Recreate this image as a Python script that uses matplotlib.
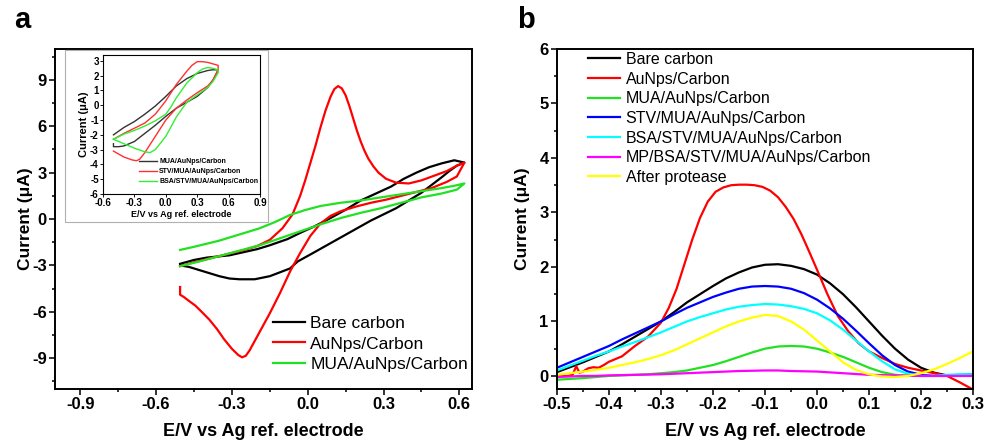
import matplotlib
matplotlib.use("Agg")
import matplotlib.pyplot as plt
from matplotlib.patches import Rectangle
from matplotlib.ticker import MultipleLocator

plt.rcParams["font.family"] = ["Liberation Sans", "DejaVu Sans"]
plt.rcParams["font.weight"] = "bold"

# ------------------------------------------------------------------ data (a) CV
bare_v = [-0.505, -0.45, -0.4, -0.31, -0.2, -0.15, -0.08, -0.03, 0.03, 0.09, 0.15,
          0.21, 0.27, 0.33, 0.38, 0.43, 0.48, 0.53, 0.58, 0.62,
          0.59, 0.56, 0.53, 0.49, 0.45, 0.40, 0.35, 0.30, 0.25, 0.19, 0.13, 0.07,
          0.01, -0.04, -0.07, -0.11, -0.15, -0.21, -0.27, -0.31, -0.35, -0.39,
          -0.43, -0.47, -0.505]
bare_i = [-2.9, -2.65, -2.5, -2.35, -1.95, -1.7, -1.3, -0.9, -0.45, 0.06, 0.6,
          1.2, 1.65, 2.1, 2.6, 3.0, 3.35, 3.6, 3.8, 3.65,
          3.45, 3.1, 2.7, 2.2, 1.7, 1.2, 0.7, 0.3, -0.1, -0.65, -1.2, -1.75,
          -2.3, -2.75, -3.2, -3.45, -3.7, -3.9, -3.9, -3.85, -3.7, -3.5,
          -3.3, -3.1, -3.0]

aunp_v = [-0.505, -0.45, -0.4, -0.35, -0.3, -0.25, -0.2, -0.15, -0.1, -0.06,
          -0.03, -0.01, 0.01, 0.03, 0.05, 0.07, 0.09, 0.105, 0.12, 0.135, 0.15,
          0.165, 0.18, 0.195, 0.21, 0.225, 0.24, 0.26, 0.28, 0.31, 0.35,
          0.40, 0.45, 0.50, 0.55, 0.59, 0.62,
          0.59, 0.55, 0.49, 0.43, 0.37, 0.31, 0.25, 0.19, 0.13, 0.09, 0.05, 0.01,
          -0.03, -0.07, -0.11, -0.15, -0.18, -0.21, -0.23, -0.245, -0.26, -0.275,
          -0.30, -0.33, -0.36, -0.39, -0.42, -0.445, -0.47, -0.49, -0.505, -0.505]
aunp_i = [-3.05, -2.8, -2.6, -2.4, -2.2, -2.0, -1.75, -1.35, -0.6, 0.3,
          1.5, 2.5, 3.6, 4.7, 5.9, 7.0, 7.9, 8.4, 8.6, 8.45, 8.0,
          7.3, 6.5, 5.7, 5.0, 4.4, 3.9, 3.4, 3.0, 2.6, 2.35,
          2.3, 2.5, 2.8, 3.1, 3.45, 3.65,
          2.75, 2.4, 2.0, 1.75, 1.5, 1.25, 1.05, 0.8, 0.5, 0.2, -0.3, -1.1,
          -2.2, -3.4, -4.8, -6.1, -7.0, -7.9, -8.5, -8.85, -8.95, -8.8,
          -8.4, -7.8, -7.1, -6.5, -6.0, -5.6, -5.3, -5.05, -4.9, -4.4]

mua_v = [-0.505, -0.45, -0.4, -0.35, -0.3, -0.25, -0.19, -0.13, -0.07, -0.01, 0.05,
         0.13, 0.21, 0.29, 0.37, 0.45, 0.53, 0.58, 0.62,
         0.59, 0.53, 0.45, 0.37, 0.29, 0.21, 0.13, 0.05, -0.03, -0.11, -0.19,
         -0.27, -0.35, -0.43, -0.505]
mua_i = [-2.0, -1.8, -1.6, -1.4, -1.15, -0.9, -0.6, -0.2, 0.26, 0.58, 0.84,
         1.05, 1.2, 1.4, 1.6, 1.8, 2.0, 2.15, 2.3,
         1.9, 1.65, 1.4, 1.05, 0.7, 0.4, 0.06, -0.35, -0.8, -1.25, -1.7,
         -2.05, -2.4, -2.75, -3.05]

# inset CVs
in_mua_v = [-0.5, -0.4, -0.3, -0.2, -0.1, 0.0, 0.1, 0.2, 0.3, 0.4, 0.45, 0.5,
            0.48, 0.45, 0.4, 0.3, 0.2, 0.1, 0.0, -0.1, -0.2, -0.3, -0.4, -0.45,
            -0.5, -0.5]
in_mua_i = [-2.0, -1.5, -1.1, -0.6, -0.05, 0.6, 1.3, 1.8, 2.15, 2.35, 2.4, 2.4,
            2.1, 1.7, 1.2, 0.6, 0.2, -0.2, -0.75, -1.35, -1.9, -2.45, -2.75, -2.8,
            -2.8, -2.6]
in_stv_v = [-0.5, -0.4, -0.3, -0.2, -0.1, 0.0, 0.1, 0.2, 0.25, 0.3, 0.35, 0.4,
            0.45, 0.5, 0.5, 0.45, 0.4, 0.3, 0.2, 0.1, 0.0, -0.1, -0.2, -0.25,
            -0.28, -0.32, -0.4, -0.45, -0.5]
in_stv_i = [-2.3, -1.9, -1.55, -1.2, -0.6, 0.3, 1.4, 2.3, 2.7, 2.95, 2.95, 2.9,
            2.8, 2.7, 2.4, 1.7, 1.3, 0.85, 0.35, -0.2, -1.0, -2.1, -3.2, -3.65,
            -3.75, -3.7, -3.5, -3.3, -3.1]
in_bsa_v = [-0.5, -0.4, -0.3, -0.2, -0.1, 0.0, 0.05, 0.1, 0.2, 0.3, 0.35, 0.4,
            0.45, 0.5, 0.5, 0.45, 0.4, 0.3, 0.2, 0.1, 0.0, -0.1, -0.15, -0.2,
            -0.3, -0.4, -0.5]
in_bsa_i = [-2.3, -1.95, -1.7, -1.4, -1.05, -0.6, -0.1, 0.5, 1.5, 2.2, 2.45, 2.55,
            2.5, 2.4, 2.2, 1.6, 1.2, 0.7, 0.2, -0.8, -2.1, -3.0, -3.2, -3.15,
            -2.9, -2.6, -2.3]

# ------------------------------------------------------------------ data (b) DPV
dpv_v = [-0.5, -0.475, -0.45, -0.425, -0.4, -0.375, -0.35, -0.325, -0.3, -0.275,
         -0.25, -0.225, -0.2, -0.175, -0.15, -0.125, -0.1, -0.075, -0.05, -0.025,
         0.0, 0.025, 0.05, 0.075, 0.1, 0.125, 0.15, 0.175, 0.2, 0.225, 0.25,
         0.275, 0.3]
dpv_bare = [0.07, 0.16, 0.25, 0.35, 0.45, 0.58, 0.72, 0.86, 1.0, 1.17,
            1.35, 1.5, 1.65, 1.79, 1.9, 1.99, 2.04, 2.05, 2.02, 1.96,
            1.86, 1.7, 1.5, 1.26, 1.0, 0.74, 0.5, 0.3, 0.15, 0.06, 0.01,
            0.0, 0.01]
dpv_mua = [-0.07, -0.055, -0.04, -0.02, 0.0, 0.01, 0.02, 0.03, 0.05, 0.07,
           0.1, 0.15, 0.2, 0.27, 0.35, 0.43, 0.5, 0.54, 0.55, 0.54,
           0.5, 0.43, 0.35, 0.25, 0.15, 0.07, 0.02, 0.0, 0.0, 0.0, 0.0,
           0.0, 0.0]
dpv_stv = [0.15, 0.25, 0.35, 0.45, 0.55, 0.67, 0.78, 0.89, 1.0, 1.13,
           1.25, 1.35, 1.45, 1.53, 1.6, 1.64, 1.65, 1.64, 1.6, 1.52,
           1.4, 1.24, 1.05, 0.83, 0.6, 0.38, 0.2, 0.08, 0.02, 0.0, 0.01,
           0.02, 0.03]
dpv_bsa = [0.1, 0.19, 0.28, 0.37, 0.45, 0.54, 0.62, 0.71, 0.8, 0.9,
           1.0, 1.08, 1.15, 1.22, 1.27, 1.3, 1.32, 1.31, 1.28, 1.23,
           1.15, 1.02, 0.85, 0.65, 0.45, 0.27, 0.12, 0.04, 0.0, 0.0, 0.02,
           0.03, 0.03]
dpv_mp = [-0.02, -0.01, 0.0, 0.0, 0.01, 0.015, 0.02, 0.025, 0.03, 0.04,
          0.05, 0.06, 0.07, 0.08, 0.09, 0.095, 0.1, 0.1, 0.09, 0.085,
          0.08, 0.065, 0.05, 0.035, 0.02, 0.015, 0.01, 0.005, 0.0, 0.0, 0.0,
          0.0, 0.0]
dpv_prot = [0.02, 0.05, 0.08, 0.11, 0.15, 0.2, 0.25, 0.31, 0.38, 0.47,
            0.58, 0.69, 0.8, 0.91, 1.0, 1.07, 1.12, 1.1, 1.0, 0.85,
            0.65, 0.45, 0.25, 0.11, 0.03, -0.01, -0.02, 0.0, 0.05, 0.12, 0.22,
            0.33, 0.45]
# AuNps curve is sampled on its own (noisy) grid
aunp_dpv_v = [-0.5, -0.48, -0.47, -0.463, -0.457, -0.45, -0.44, -0.43, -0.42,
              -0.41, -0.4, -0.39, -0.375, -0.35, -0.325, -0.3, -0.285, -0.27,
              -0.255, -0.24, -0.225, -0.21, -0.195, -0.18, -0.165, -0.15, -0.135,
              -0.12, -0.105, -0.09, -0.075, -0.06, -0.045, -0.03, -0.015, 0.0,
              0.02, 0.04, 0.06, 0.08, 0.1, 0.125, 0.15, 0.175, 0.2, 0.225, 0.25,
              0.275, 0.3]
aunp_dpv_i = [0.0, 0.0, 0.02, 0.18, 0.06, 0.08, 0.14, 0.16, 0.15,
              0.2, 0.26, 0.3, 0.36, 0.55, 0.72, 0.98, 1.25, 1.6,
              2.05, 2.5, 2.9, 3.2, 3.38, 3.46, 3.5, 3.51, 3.51,
              3.5, 3.47, 3.4, 3.28, 3.1, 2.88, 2.6, 2.28, 1.95,
              1.5, 1.1, 0.82, 0.6, 0.45, 0.33, 0.22, 0.15, 0.1, 0.05, 0.0,
              -0.12, -0.25]

labels_a = ["Bare carbon", "AuNps/Carbon", "MUA/AuNps/Carbon"]
labels_in = ["MUA/AuNps/Carbon", "STV/MUA/AuNps/Carbon", "BSA/STV/MUA/AuNps/Carbon"]
labels_b = ["Bare carbon", "AuNps/Carbon", "MUA/AuNps/Carbon", "STV/MUA/AuNps/Carbon",
            "BSA/STV/MUA/AuNps/Carbon", "MP/BSA/STV/MUA/AuNps/Carbon", "After protease"]

RED = "#ff0000"
GREEN = "#22e022"
XLAB = "E/V vs Ag ref. electrode"
YLAB = "Current (\u03bcA)"


def style(ax, size, lw=1.4, tl=4):
    for s in ax.spines.values():
        s.set_linewidth(lw)
    ax.tick_params(which="both", direction="out", width=lw * 0.8, top=False,
                   right=False, labelsize=size, pad=2)
    ax.tick_params(which="major", length=tl)
    ax.tick_params(which="minor", length=tl * 0.6)
    for t in ax.get_xticklabels() + ax.get_yticklabels():
        t.set_fontweight("bold")


fig = plt.figure(figsize=(9.85, 4.44), dpi=100)

# ------------------------------------------------------------------ panel a
ax1 = fig.add_axes([55 / 985, 1 - 389 / 444, 417 / 985, 340 / 444])
ax1.plot(bare_v, bare_i, color="black", lw=1.6, label=labels_a[0])
ax1.plot(aunp_v, aunp_i, color=RED, lw=1.6, label=labels_a[1])
ax1.plot(mua_v, mua_i, color=GREEN, lw=1.6, label=labels_a[2])
ax1.set_xlim(-1.0, 0.65)
ax1.set_ylim(-11, 11)
ax1.xaxis.set_minor_locator(MultipleLocator(0.15))
ax1.yaxis.set_minor_locator(MultipleLocator(1.5))
ax1.set_xticks([-0.9, -0.6, -0.3, 0.0, 0.3, 0.6])
ax1.set_xticklabels(["-0.9", "-0.6", "-0.3", "0.0", "0.3", "0.6"])
ax1.set_yticks([-9, -6, -3, 0, 3, 6, 9])
ax1.set_yticklabels(["-9", "-6", "-3", "0", "3", "6", "9"])
style(ax1, 12)
ax1.set_xlabel(XLAB, fontsize=13, fontweight="bold", labelpad=8)
ax1.set_ylabel(YLAB, fontsize=12.5, fontweight="bold")
ax1.yaxis.set_label_coords(-0.052, 0.5)
ax1.legend(loc="upper left", bbox_to_anchor=(273 / 985, 1 - 316 / 444),
           bbox_transform=fig.transFigure, frameon=False, borderpad=0,
           borderaxespad=0, labelspacing=0.3, handlelength=1.85,
           handletextpad=0.3, prop={"weight": "normal", "size": 12.5})

# inset
fig.patches.append(Rectangle((65 / 985, 1 - 222 / 444), 203 / 985, 172 / 444,
                             transform=fig.transFigure, fill=False,
                             edgecolor="#b0b0b0", lw=0.8, zorder=5))
axi = fig.add_axes([103 / 985, 1 - 194 / 444, 157 / 985, 139 / 444])
axi.plot(in_mua_v, in_mua_i, color="#333333", lw=1.0, label=labels_in[0])
axi.plot(in_stv_v, in_stv_i, color="#ff3030", lw=1.0, label=labels_in[1])
axi.plot(in_bsa_v, in_bsa_i, color="#33ee33", lw=1.0, label=labels_in[2])
axi.set_xlim(-0.6, 0.9)
axi.set_ylim(-6, 3.4)
axi.set_xticks([-0.6, -0.3, 0.0, 0.3, 0.6, 0.9])
axi.set_xticklabels(["-0.6", "-0.3", "0.0", "0.3", "0.6", "0.9"])
axi.set_yticks(range(-6, 4))
axi.set_yticklabels([str(v) for v in range(-6, 4)])
style(axi, 7, lw=0.8, tl=2)
axi.tick_params(pad=1)
axi.set_xlabel(XLAB, fontsize=6.5, fontweight="bold", labelpad=1)
axi.set_ylabel(YLAB, fontsize=8, fontweight="bold", labelpad=1)
axi.legend(loc="upper left", bbox_to_anchor=(139 / 985, 1 - 158 / 444),
           bbox_transform=fig.transFigure, frameon=False, borderpad=0,
           borderaxespad=0, labelspacing=0.45, handlelength=2.6,
           handletextpad=0.3, prop={"weight": "bold", "size": 5})

# ------------------------------------------------------------------ panel b
ax2 = fig.add_axes([557 / 985, 1 - 389 / 444, 416 / 985, 340 / 444])
ax2.plot(dpv_v, dpv_bare, color="black", lw=1.6, label=labels_b[0])
ax2.plot(aunp_dpv_v, aunp_dpv_i, color=RED, lw=1.6, label=labels_b[1])
ax2.plot(dpv_v, dpv_mua, color=GREEN, lw=1.6, label=labels_b[2])
ax2.plot(dpv_v, dpv_stv, color="#0000ff", lw=1.6, label=labels_b[3])
ax2.plot(dpv_v, dpv_bsa, color="#00ffff", lw=1.6, label=labels_b[4])
ax2.plot(dpv_v, dpv_mp, color="#ff00ff", lw=1.6, label=labels_b[5])
ax2.plot(dpv_v, dpv_prot, color="#ffff00", lw=1.6, label=labels_b[6])
ax2.set_xlim(-0.5, 0.3)
ax2.set_ylim(-0.24, 6)
ax2.set_xticks([-0.5, -0.4, -0.3, -0.2, -0.1, 0.0, 0.1, 0.2, 0.3])
ax2.set_xticklabels(["-0.5", "-0.4", "-0.3", "-0.2", "-0.1", "0.0", "0.1", "0.2", "0.3"])
ax2.xaxis.set_minor_locator(MultipleLocator(0.05))
ax2.set_yticks(range(0, 7))
ax2.yaxis.set_minor_locator(MultipleLocator(0.5))
style(ax2, 12)
ax2.set_xlabel(XLAB, fontsize=13, fontweight="bold", labelpad=8)
ax2.set_ylabel(YLAB, fontsize=12.5, fontweight="bold")
ax2.yaxis.set_label_coords(-0.064, 0.5)
ax2.legend(loc="upper left", bbox_to_anchor=(588 / 985, 1 - 52 / 444),
           bbox_transform=fig.transFigure, frameon=False, borderpad=0,
           borderaxespad=0, labelspacing=0.29, handlelength=2.0,
           handletextpad=0.35, prop={"weight": "normal", "size": 11.5})

fig.text(14 / 985, 1 - 20 / 444, "a", fontsize=21, fontweight="bold", va="center")
fig.text(517 / 985, 1 - 20 / 444, "b", fontsize=21, fontweight="bold", va="center")

fig.savefig("out.png", dpi=100)
